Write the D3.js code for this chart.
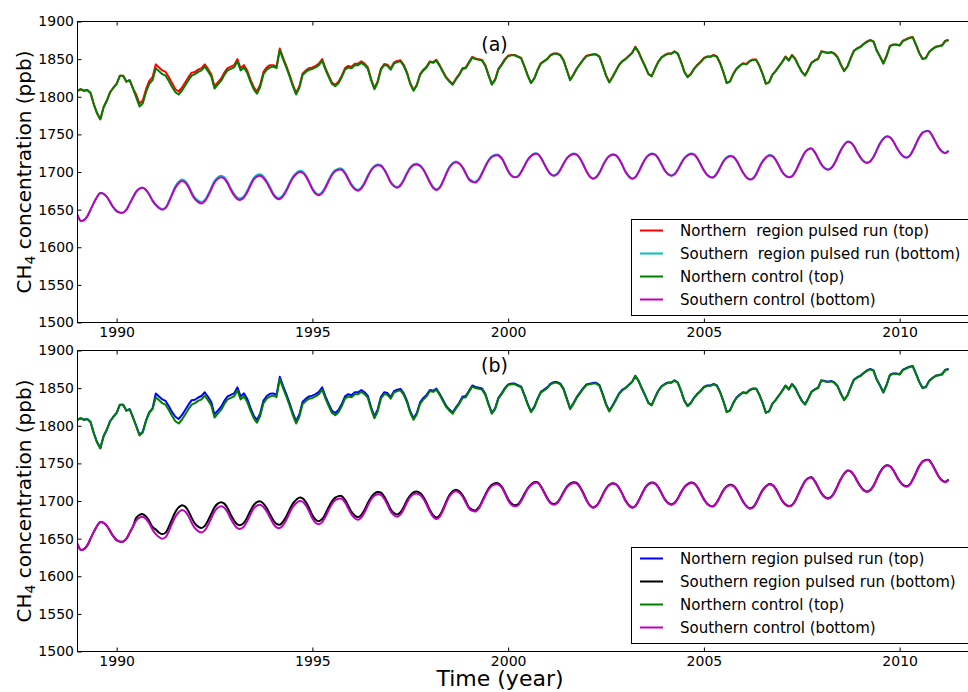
<!DOCTYPE html>
<html>
<head>
<meta charset="utf-8">
<script src="https://d3js.org/d3.v7.min.js"></script>
<style>
  body { margin: 0; background: #fff; }
  text { font-family: "DejaVu Sans", sans-serif; fill: #000; }
</style>
</head>
<body>
<div id="chart"></div>
<script>
// Monthly model output (ppb), first sample is Jan 1989.
const startYear = 1989;

const northControl = [
  1808, 1810, 1808, 1809, 1805, 1790, 1778, 1770, 1786, 1795, 1806, 1812,
  1817, 1828, 1828, 1820, 1822, 1811, 1799, 1787, 1791, 1806, 1817, 1822,
  1838, 1834, 1830, 1828, 1821, 1813, 1806, 1803, 1808, 1815, 1822, 1828,
  1830, 1833, 1835, 1840, 1834, 1827, 1811, 1816, 1821, 1829, 1835, 1837,
  1839, 1847, 1835, 1839, 1832, 1820, 1810, 1804, 1813, 1830, 1836, 1839,
  1840, 1838, 1862, 1850, 1839, 1827, 1814, 1803, 1812, 1829, 1833, 1836,
  1837, 1839, 1842, 1848, 1836, 1826, 1817, 1814, 1818, 1826, 1836, 1839,
  1838, 1842, 1842, 1845, 1842, 1837, 1822, 1810, 1819, 1836, 1842, 1841,
  1836, 1844, 1846, 1847, 1841, 1831, 1817, 1808, 1815, 1829, 1835, 1839,
  1846, 1845, 1848, 1841, 1833, 1825, 1820, 1816, 1823, 1829, 1837, 1838,
  1845, 1852, 1850, 1849, 1848, 1841, 1828, 1816, 1822, 1836, 1842, 1849,
  1854, 1855, 1855, 1853, 1851, 1840, 1828, 1818, 1824, 1835, 1844, 1847,
  1850, 1855, 1857, 1857, 1855, 1848, 1835, 1822, 1829, 1837, 1843, 1849,
  1854, 1855, 1856, 1856, 1853, 1841, 1828, 1819, 1826, 1834, 1842, 1847,
  1850, 1854, 1858, 1866, 1859, 1849, 1840, 1830, 1827, 1837, 1846, 1852,
  1855, 1857, 1857, 1860, 1857, 1846, 1833, 1826, 1830, 1837, 1842, 1846,
  1851, 1853, 1853, 1855, 1853, 1844, 1832, 1818, 1820, 1830, 1837, 1841,
  1844, 1843, 1847, 1849, 1849, 1841, 1830, 1817, 1819, 1829, 1834, 1840,
  1846, 1853, 1848, 1855, 1850, 1841, 1833, 1828, 1836, 1845, 1848, 1850,
  1860, 1859, 1858, 1859, 1857, 1852, 1842, 1834, 1840, 1851, 1861, 1864,
  1866, 1870, 1873, 1875, 1873, 1861, 1853, 1844, 1854, 1867, 1869, 1869,
  1868, 1874, 1876, 1878, 1879, 1869, 1858, 1850, 1851, 1859, 1863, 1866,
  1867, 1868, 1874, 1875
];

const southControl = [
  1643, 1635, 1636, 1641, 1650, 1659, 1667, 1672, 1671, 1667, 1660, 1653,
  1648, 1646, 1646, 1650, 1658, 1666, 1674, 1678, 1679, 1676, 1670, 1662,
  1656, 1652, 1650, 1652, 1660, 1670, 1679, 1685, 1688, 1686, 1680, 1671,
  1664, 1660, 1658, 1661, 1668, 1677, 1686, 1691, 1693, 1691, 1685, 1676,
  1669, 1664, 1663, 1666, 1673, 1682, 1690, 1694, 1695, 1692, 1686, 1678,
  1670, 1665, 1664, 1668, 1675, 1684, 1692, 1697, 1700, 1699, 1694, 1686,
  1677, 1671, 1669, 1672, 1679, 1688, 1696, 1701, 1703, 1703, 1698, 1690,
  1682, 1677, 1675, 1678, 1685, 1694, 1702, 1707, 1709, 1708, 1703, 1695,
  1686, 1681, 1679, 1682, 1689, 1698, 1705, 1709, 1710, 1708, 1703, 1695,
  1686, 1679, 1676, 1679, 1687, 1697, 1706, 1711, 1713, 1711, 1706, 1698,
  1690, 1687, 1686, 1690, 1698, 1707, 1715, 1720, 1722, 1722, 1718, 1710,
  1701, 1695, 1693, 1694, 1700, 1708, 1716, 1721, 1724, 1724, 1719, 1711,
  1703, 1697, 1695, 1697, 1703, 1711, 1718, 1722, 1724, 1723, 1718, 1710,
  1701, 1694, 1691, 1693, 1699, 1708, 1716, 1721, 1723, 1722, 1717, 1709,
  1700, 1694, 1691, 1693, 1700, 1709, 1717, 1722, 1724, 1723, 1718, 1710,
  1702, 1697, 1695, 1697, 1703, 1711, 1718, 1722, 1724, 1723, 1718, 1710,
  1702, 1696, 1693, 1693, 1698, 1706, 1714, 1719, 1721, 1720, 1715, 1707,
  1699, 1693, 1690, 1691, 1697, 1706, 1714, 1719, 1722, 1721, 1716, 1708,
  1700, 1695, 1693, 1694, 1700, 1709, 1718, 1726, 1730, 1731, 1726, 1718,
  1710, 1705, 1703, 1705, 1711, 1720, 1729, 1736, 1740, 1739, 1734, 1726,
  1719, 1714, 1712, 1714, 1720, 1729, 1738, 1744, 1747, 1746, 1741, 1733,
  1726, 1721, 1719, 1721, 1728, 1737, 1746, 1752, 1754, 1754, 1748, 1740,
  1732, 1727, 1725, 1728
];

// Pulsed run minus control (ppb), one value per half year from 1989.0.
const northPulseDiffA = [
  0, 0, 0, 4, 5, 4, 3, 3, 3, 3, 2, 2, 2, 2, 2, 1.5, 1.5, 1, 1, 1, 1, 1,
  0.5, 0.5, 0.5, 0.5, 0.5, 0.5, 0.5, 0.5, 0.5, 0.5, 0.5, 0.5, 0.5, 0.5,
  0.5, 0.5, 0.5, 0.5, 0.5, 0.5, 0.5, 0.5, 0.5
];
const southPulseDiffA = [
  0, 0, 0, 0, 1, 2, 2, 2, 2, 2, 1.5, 1.5, 1.5, 1.5, 1.5, 1, 1, 1, 1, 1, 1, 1,
  0.5, 0.5, 0.5, 0.5, 0.5, 0.5, 0.5, 0.5, 0.5, 0.5, 0.5, 0.5, 0.5, 0.5,
  0.5, 0.5, 0.5, 0.5, 0.5, 0.5, 0.5, 0.5, 0.5
];
const northPulseDiffB = [
  0, 0, 0, 1, 5, 6, 4.5, 4, 4, 3.5, 3, 3, 3, 3, 2.5, 2.5, 2, 2, 1.5, 1.5, 1.5, 1,
  1, 1, 1, 1, 1, 1, 0.5, 0.5, 0.5, 0.5, 0.5, 0.5, 0.5, 0.5,
  0.5, 0.5, 0.5, 0.5, 0.5, 0.5, 0.5, 0.5, 0.5
];
const southPulseDiffB = [
  0, 0, 0, 3.5, 6, 6.5, 6, 5.5, 5, 4.5, 4.5, 4.5, 4, 3.5, 3.5, 3, 3, 2.5, 2, 2, 1.5, 1.5,
  1.5, 1, 1, 1, 0.5, 0.5, 0.5, 0.5, 0.5, 0.5, 0.5, 0.5, 0.5, 0.5,
  0.5, 0.5, 0.5, 0.5, 0.5, 0.5, 0.5, 0.5, 0.5
];

const xTicks = [1990, 1995, 2000, 2005, 2010];
const yTicks = [1500, 1550, 1600, 1650, 1700, 1750, 1800, 1850, 1900];

const legendA = [
  'Northern  region pulsed run (top)',
  'Southern  region pulsed run (bottom)',
  'Northern control (top)',
  'Southern control (bottom)'
];
const legendB = [
  'Northern region pulsed run (top)',
  'Southern region pulsed run (bottom)',
  'Northern control (top)',
  'Southern control (bottom)'
];

// ---------------------------------------------------------------------------

const months = northControl.map((d, i) => startYear + i / 12);
const addPulse = (control, diff) => control.map((v, i) => v + diff[Math.floor(i / 6)]);

const panels = [
  {
    'top': 21.5, 'bottom': 322.5, 'tag': '(a)', 'tagY': 51,
    'legend': legendA, 'legendTop': 219.5,
    'series': [
      {'values': addPulse(northControl, northPulseDiffA), 'color': '#ff0000', 'smooth': false},
      {'values': addPulse(southControl, southPulseDiffA), 'color': '#00bfbf', 'smooth': true},
      {'values': northControl, 'color': '#008000', 'smooth': false},
      {'values': southControl, 'color': '#bf00bf', 'smooth': true}
    ]
  },
  {
    'top': 350.5, 'bottom': 651.5, 'tag': '(b)', 'tagY': 372,
    'legend': legendB, 'legendTop': 547.5,
    'series': [
      {'values': addPulse(northControl, northPulseDiffB), 'color': '#0000ff', 'smooth': false},
      {'values': addPulse(southControl, southPulseDiffB), 'color': '#000000', 'smooth': true},
      {'values': northControl, 'color': '#008000', 'smooth': false},
      {'values': southControl, 'color': '#bf00bf', 'smooth': true}
    ]
  }
];

const width = 968, height = 692;
const left = 77.5;
// Axes run to 2012, a little past the cropped right edge of the figure.
const x = d3.scaleLinear().domain([1989, 2012]).range([left, left + 23 * 39.15]);

const svg = d3.select('#chart')
  .append('svg')
    .attr('width', width)
    .attr('height', height);

panels.forEach((p, pi) => {
  const y = d3.scaleLinear().domain([1500, 1900]).range([p.bottom, p.top]);
  const g = svg.append('g');

  g.append('clipPath')
      .attr('id', 'clip' + pi)
    .append('rect')
      .attr('x', left)
      .attr('y', p.top)
      .attr('width', x(2012) - left)
      .attr('height', p.bottom - p.top);

  // series, drawn in legend order so controls sit on top
  const lines = g.append('g').attr('clip-path', 'url(#clip' + pi + ')');
  p.series.forEach((s) => {
    const line = d3.line()
      .x((d, i) => x(months[i]))
      .y((d) => y(d))
      .curve(s.smooth ? d3.curveCatmullRom : d3.curveLinear);
    lines.append('path')
      .datum(s.values)
      .attr('fill', 'none')
      .attr('stroke', s.color)
      .attr('stroke-width', 2)
      .attr('stroke-linejoin', 'round')
      .attr('d', line);
  });

  // inward ticks on bottom, top and left
  const xAxis = g.append('g')
    .attr('transform', 'translate(0,' + p.bottom + ')')
    .call(d3.axisBottom(x).tickValues(xTicks).tickFormat(d3.format('d'))
      .tickSize(-4).tickSizeOuter(0).tickPadding(4.5));
  xAxis.attr('font-size', 14).select('.domain').remove();

  g.append('g')
    .attr('transform', 'translate(0,' + p.top + ')')
    .call(d3.axisTop(x).tickValues(xTicks).tickFormat('')
      .tickSize(-4).tickSizeOuter(0))
    .select('.domain').remove();

  const yAxis = g.append('g')
    .attr('transform', 'translate(' + left + ',0)')
    .call(d3.axisLeft(y).tickValues(yTicks).tickFormat(d3.format('d'))
      .tickSize(-4).tickSizeOuter(0).tickPadding(3.5));
  yAxis.attr('font-size', 14).select('.domain').remove();

  g.append('rect')
    .attr('x', left)
    .attr('y', p.top)
    .attr('width', x(2012) - left)
    .attr('height', p.bottom - p.top)
    .attr('fill', 'none')
    .attr('stroke', '#000')
    .attr('stroke-width', 1);

  g.append('text')
    .attr('x', 494.5)
    .attr('y', p.tagY)
    .attr('text-anchor', 'middle')
    .style('font-size', '19px')
    .text(p.tag);

  // y label with subscript
  const cy = (p.top + p.bottom) / 2;
  const yl = g.append('text')
    .attr('transform', 'translate(31,' + cy + ') rotate(-90)')
    .attr('text-anchor', 'middle')
    .style('font-size', '20px');
  yl.append('tspan').text('CH');
  yl.append('tspan').attr('dy', 4).style('font-size', '14px').text('4');
  yl.append('tspan').attr('dy', -4).text(' concentration (ppb)');

  // legend
  const lg = g.append('g');
  lg.append('rect')
    .attr('x', 631.5)
    .attr('y', p.legendTop)
    .attr('width', 400)
    .attr('height', 96)
    .attr('fill', '#fff')
    .attr('stroke', '#000')
    .attr('stroke-width', 1);
  p.legend.forEach((label, i) => {
    const ly = p.legendTop + 11 + i * 23;
    lg.append('line')
      .attr('x1', 640).attr('x2', 663)
      .attr('y1', ly).attr('y2', ly)
      .attr('stroke', p.series[i].color)
      .attr('stroke-width', 2);
    lg.append('text')
      .attr('x', 680)
      .attr('y', ly)
      .attr('dy', '0.35em')
      .style('font-size', '15px')
      .style('white-space', 'pre')
      .text(label);
  });
});

svg.append('text')
  .attr('x', 500)
  .attr('y', 686)
  .attr('text-anchor', 'middle')
  .style('font-size', '22px')
  .text('Time (year)');
</script>
</body>
</html>
